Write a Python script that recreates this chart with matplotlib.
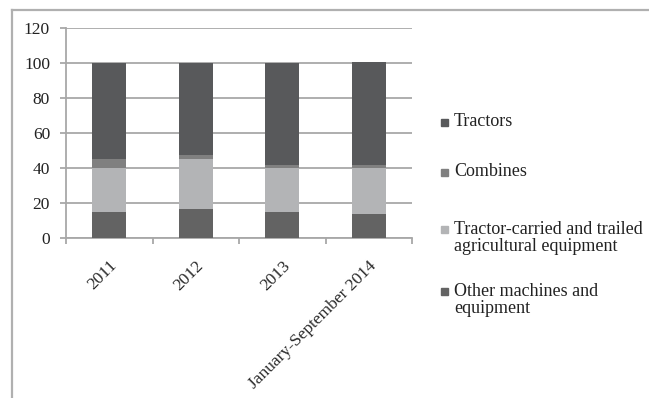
import matplotlib.pyplot as plt
from matplotlib.lines import Line2D
from matplotlib.patches import Rectangle
import numpy as np

plt.rcParams['font.family'] = ['Liberation Serif', 'DejaVu Serif']

categories = ['2011', '2012', '2013', 'January-September 2014']
other = [15.0, 17.0, 15.0, 13.7]
carried = [25.3, 28.3, 25.4, 26.3]
combines = [4.8, 2.3, 1.5, 1.9]
tractors = [54.9, 52.4, 58.1, 58.9]

series = [
    ('Other machines and\nequipment', other, '#636363'),
    ('Tractor-carried and trailed\nagricultural equipment', carried, '#b3b4b6'),
    ('Combines', combines, '#808080'),
    ('Tractors', tractors, '#58595b'),
]

fig = plt.figure(figsize=(6.49, 3.98), dpi=100)
ax = fig.add_axes([66/649, 1-238.3/398, 346/649, 210/398])

x = np.arange(len(categories))
bottom = np.zeros(len(categories))
for label, vals, col in series:
    ax.bar(x, vals, width=0.39, bottom=bottom, color=col, zorder=3)
    bottom += np.array(vals)

grid_c = '#a8a8a8'
ax.set_ylim(0, 120)
ax.set_xlim(-0.5, len(categories) - 0.5)
ax.set_yticks(range(0, 121, 20))
ax.yaxis.grid(True, color=grid_c, linewidth=1.3, zorder=0)
for s in ['top', 'right']:
    ax.spines[s].set_visible(False)
for s in ['left', 'bottom']:
    ax.spines[s].set_color(grid_c)
    ax.spines[s].set_linewidth(1.3)

ax.set_xticks(x)
ax.set_xticklabels(categories, rotation=45, ha='right', rotation_mode='anchor')
ax.tick_params(axis='x', length=0, pad=14, labelsize=12.5, colors='#2a2a2a')
ax.set_xticks(np.arange(-0.5, len(categories)), minor=True)
ax.tick_params(axis='x', which='minor', length=4, color=grid_c, width=1.3)
ax.tick_params(axis='y', length=4.5, pad=7, labelsize=12.5, color=grid_c,
               width=1.3, labelcolor='#222222')

# legend drawn by hand, Excel-like spacing
leg_y = [122, 172, 238, 300]
for (label, vals, col), yy in zip(series[::-1], leg_y):
    first_line = yy - (9 if '\n' in label else 0)
    fig.patches.append(Rectangle((441/649, 1-(first_line+4)/398), 7/649, 7/398,
                                 transform=fig.transFigure, color=col))
    fig.text(454/649, 1-yy/398, label, fontsize=13, va='center', ha='left',
             color='#222222', linespacing=1.05)

# outer chart frame (cropped at right/bottom)
fig.add_artist(Line2D([12/649, 1], [1-9.5/398, 1-9.5/398], color='#b0b0b0',
                      linewidth=1.6, transform=fig.transFigure))
fig.add_artist(Line2D([12/649, 12/649], [0, 1-9.5/398], color='#b0b0b0',
                      linewidth=1.6, transform=fig.transFigure))

fig.savefig('out.png', dpi=100)
